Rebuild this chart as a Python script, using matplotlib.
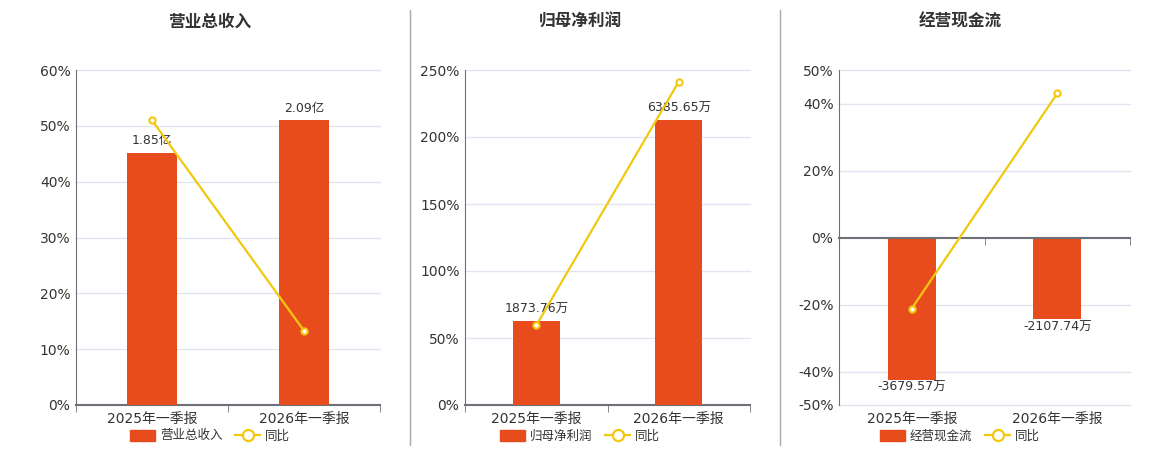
import matplotlib
matplotlib.use("Agg")
import matplotlib.pyplot as plt
from matplotlib.patches import Patch
from matplotlib.lines import Line2D

plt.rcParams['font.family'] = ['DejaVu Sans', 'Noto Sans CJK SC']

categories = ["2025年一季报", "2026年一季报"]

titles = ["营业总收入", "归母净利润", "经营现金流"]

# bar values (亿 / 万) and their labels
revenue = [1.85, 2.09]
revenue_labels = ["1.85亿", "2.09亿"]
profit = [1873.76, 6385.65]
profit_labels = ["1873.76万", "6385.65万"]
cashflow = [-3679.57, -2107.74]
cashflow_labels = ["-3679.57万", "-2107.74万"]

# year-on-year growth, %
revenue_yoy = [51.0, 13.3]
profit_yoy = [59.4, 241.3]
cashflow_yoy = [-21.2, 43.0]

# percent axis ticks
ticks_1 = [0, 10, 20, 30, 40, 50, 60]
ticks_2 = [0, 50, 100, 150, 200, 250]
ticks_3 = [-50, -40, -20, 0, 20, 40, 50]

BAR = "#E84C1D"
LINE = "#F2C80F"
GRID = "#E0E6F1"
AXIS = "#6E7079"
TEXT = "#333333"

W, H = 1160, 450
fig = plt.figure(figsize=(W / 100, H / 100), dpi=100)


def px_axes(left, right, top=70, bottom=405):
    return fig.add_axes([left / W, (H - bottom) / H, (right - left) / W, (bottom - top) / H])


def panel(left, right, center, title, bars, labels, yoy, ticks):
    ax = px_axes(left, right)
    lo, hi = ticks[0], ticks[-1]
    x = list(range(len(categories)))
    neg = lo < 0

    ax.set_xlim(-0.5, len(categories) - 0.5)
    ax.set_ylim(lo, hi)
    ax.set_yticks(ticks)
    ax.set_yticklabels([f"{t}%" for t in ticks])
    ax.set_xticks(x)
    ax.set_xticklabels(categories)
    ax.set_xticks([-0.5, 0.5, 1.5], minor=True)
    for t in ticks:
        if t != 0:
            ax.axhline(t, color=GRID, lw=1, zorder=0, clip_on=False)
    for s in ["top", "right"]:
        ax.spines[s].set_visible(False)
    ax.spines["left"].set_color(AXIS)
    ax.spines["bottom"].set_color(AXIS)
    ax.spines["bottom"].set_linewidth(1.5)
    ax.tick_params(axis="y", length=0, labelsize=10, labelcolor=TEXT, pad=4)
    ax.tick_params(axis="x", which="major", length=0, labelsize=10, labelcolor=TEXT, pad=5)
    ax.tick_params(axis="x", which="minor", length=5, color=AXIS)
    if neg:
        ax.spines["bottom"].set_visible(False)
        ax.tick_params(axis="x", which="minor", length=0)

    # bars on their own hidden scale
    axb = ax.twinx()
    bmax = max(abs(v) for v in bars) / 0.85
    axb.set_ylim(-bmax if neg else 0, bmax)
    axb.bar(x, bars, width=0.33, color=BAR, zorder=2)
    for xi, v, lab in zip(x, bars, labels):
        if v >= 0:
            axb.annotate(lab, (xi, v), xytext=(0, 4), textcoords="offset points",
                         ha="center", va="bottom", fontsize=9, color=TEXT)
        else:
            axb.annotate(lab, (xi, v), xytext=(0, -1), textcoords="offset points",
                         ha="center", va="top", fontsize=9, color=TEXT)
    axb.axis("off")

    # yoy line on top
    axl = ax.twinx()
    axl.set_ylim(lo, hi)
    axl.plot(x, yoy, color=LINE, lw=1.6, marker="o", ms=4.5,
             mfc="white", mec=LINE, mew=1.5, zorder=3)
    axl.set_yticks([])
    for s in ["top", "right", "left"]:
        axl.spines[s].set_visible(False)
    if neg:
        axl.xaxis.set_visible(True)
        axl.spines["bottom"].set_position(("data", 0))
        axl.spines["bottom"].set_color(AXIS)
        axl.spines["bottom"].set_linewidth(1.5)
        axl.tick_params(axis="x", which="major", length=0, labelbottom=False)
        axl.tick_params(axis="x", which="minor", length=5, color=AXIS)
    else:
        axl.spines["bottom"].set_visible(False)

    fig.text(center / W, 1 - 22 / H, title, ha="center", va="center",
             fontsize=12, fontweight="bold", color=TEXT)
    handles = [Patch(facecolor=BAR, edgecolor=BAR),
               Line2D([0], [0], color=LINE, lw=1.6, marker="o", ms=8,
                      mfc="white", mec=LINE, mew=1.6)]
    fig.legend(handles, [title, "同比"], loc="center",
               bbox_to_anchor=(center / W, 1 - 436 / H), ncol=2, frameon=False,
               fontsize=9, handlelength=2.0, handleheight=1.0, handletextpad=0.4,
               columnspacing=1.0, labelcolor=TEXT, borderaxespad=0)


panel(76, 380, 210, titles[0], revenue, revenue_labels, revenue_yoy, ticks_1)
panel(465, 750, 580, titles[1], profit, profit_labels, profit_yoy, ticks_2)
panel(839, 1130, 960, titles[2], cashflow, cashflow_labels, cashflow_yoy, ticks_3)

for sx in [410, 780]:
    fig.add_artist(Line2D([sx / W, sx / W], [1 - 10 / H, 1 - 445 / H],
                          color="#A8A8A8", lw=1))

fig.savefig("out.png", dpi=100)
